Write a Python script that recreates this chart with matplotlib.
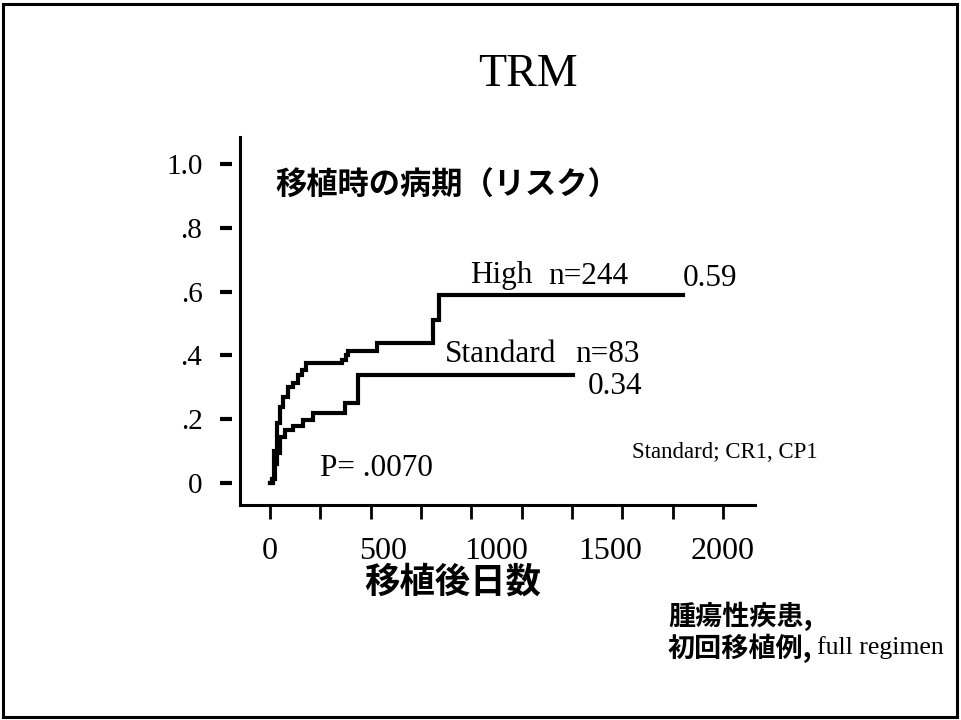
import numpy as np
import matplotlib
matplotlib.use("Agg")
import matplotlib.pyplot as plt
from matplotlib.patches import Rectangle

SERIF = ["Liberation Serif", "Noto Sans CJK JP"]
CJK = ["Noto Sans CJK JP", "Liberation Serif"]

# cumulative incidence of transplant-related mortality, by risk group
high_days = [0, 9, 20, 31, 44, 57, 80, 102, 124, 141, 159, 318, 335, 345, 472, 720, 745, 1823]
high_vals = [0.0, 0.013, 0.10, 0.188, 0.238, 0.27, 0.30, 0.313, 0.34, 0.354, 0.376,
             0.386, 0.40, 0.414, 0.439, 0.51, 0.59, 0.59]
std_days = [0, 13, 22, 31, 44, 66, 102, 146, 190, 331, 388, 1338]
std_vals = [0.0, 0.013, 0.06, 0.094, 0.144, 0.166, 0.18, 0.197, 0.22, 0.25, 0.34, 0.34]

high_n = 244
std_n = 83
p_value = ".0070"

x_labels = [0, 500, 1000, 1500, 2000]
x_minor = np.linspace(0, 2000, 10)
y_ticks = [0, 0.2, 0.4, 0.6, 0.8, 1.0]
y_labels = ["0", ".2", ".4", ".6", ".8", "1.0"]

W, H = 961, 720
fig = plt.figure(figsize=(W / 100, H / 100), dpi=100)


def fx(px):
    return px / W


def fy(py):
    return 1 - py / H


# slide frame
fig.patches.append(Rectangle((0.003, 0.004), 0.993, 0.991, transform=fig.transFigure,
                             fill=False, lw=2.2, ec="black"))

ax = fig.add_axes([fx(240), fy(505), fx(755) - fx(240), (505 - 137) / H])
ax.step(high_days, high_vals, where="post", color="black", lw=3.0, solid_joinstyle="miter")
ax.step(std_days, std_vals, where="post", color="black", lw=3.0, solid_joinstyle="miter")

ax.set_xlim(-132, 2141)
ax.set_ylim(-0.069, 1.085)
for s in ["top", "right"]:
    ax.spines[s].set_visible(False)
for s in ["left", "bottom"]:
    ax.spines[s].set_linewidth(2.2)

ax.xaxis.remove_overlapping_locs = False
ax.set_xticks(x_labels)
ax.set_xticklabels([str(v) for v in x_labels], family=SERIF, fontsize=23)
ax.set_xticks(x_minor, minor=True)
ax.tick_params(axis="x", which="major", length=0, pad=23)
ax.tick_params(axis="x", which="minor", length=10, width=2, direction="out")

ax.set_yticks(y_ticks)
ax.set_yticklabels(y_labels, family=SERIF, fontsize=21)
ax.tick_params(axis="y", length=0, pad=27)
# short dashes a little away from the left spine
ax.plot(np.full(len(y_ticks), -0.027), y_ticks, ls="none", marker="_", ms=8, mew=3,
        color="black", transform=ax.get_yaxis_transform(), clip_on=False)

fig.text(fx(528), fy(75), "TRM", family=SERIF, fontsize=33, ha="center", va="center")
fig.text(fx(275), fy(186), "移植時の病期（リスク）", family=CJK, fontsize=22.5,
         fontweight="bold", ha="left", va="center")
fig.text(fx(470), fy(276), "High", family=SERIF, fontsize=22.5, ha="left", va="center")
fig.text(fx(548), fy(276), f"n={high_n}", family=SERIF, fontsize=22.5, ha="left", va="center")
fig.text(fx(683), fy(278), f"{high_vals[-1]:.2f}", family=SERIF, fontsize=22.5,
         ha="left", va="center")
fig.text(fx(445), fy(355), "Standard", family=SERIF, fontsize=22.5, ha="left", va="center")
fig.text(fx(575), fy(355), f"n={std_n}", family=SERIF, fontsize=22.5, ha="left", va="center")
fig.text(fx(588), fy(386), f"{std_vals[-1]:.2f}", family=SERIF, fontsize=22.5,
         ha="left", va="center")
fig.text(fx(320), fy(468), f"P= {p_value}", family=SERIF, fontsize=22.5, ha="left", va="center")
fig.text(fx(632), fy(452), "Standard; CR1, CP1", family=SERIF, fontsize=16.5,
         ha="left", va="center")

fig.text(fx(453), fy(582), "移植後日数", family=CJK, fontsize=25.5, fontweight="bold",
         ha="center", va="center")
fig.text(fx(668), fy(616), "腫瘍性疾患,", family=CJK, fontsize=19.5, fontweight="bold",
         ha="left", va="center")
fig.text(fx(668), fy(648), "初回移植例,", family=CJK, fontsize=19.5, fontweight="bold",
         ha="left", va="center")
fig.text(fx(817), fy(648), "full regimen", family=SERIF, fontsize=18.5, ha="left", va="center")

fig.savefig("out.png", dpi=100, facecolor="white")
